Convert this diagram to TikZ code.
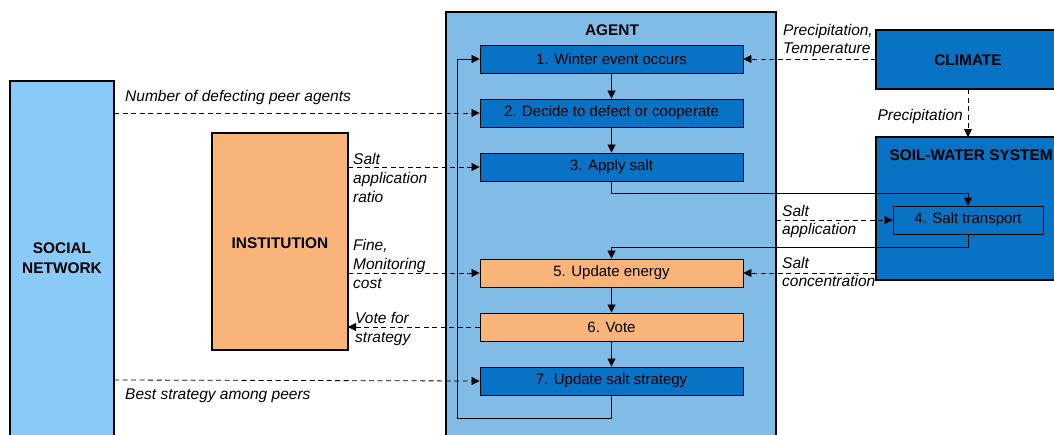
\documentclass[tikz,border=0pt]{standalone}
\usepackage{fontspec}
\setmainfont{Liberation Sans}
\usetikzlibrary{arrows.meta,positioning}
\definecolor{snblue}{RGB}{138,202,248}
\definecolor{agblue}{RGB}{128,188,230}
\definecolor{dkblue}{RGB}{8,114,196}
\definecolor{orng}{RGB}{249,180,122}
\tikzset{
  box/.style={draw=black, line width=0.9pt, minimum width=263pt, minimum height=28pt, inner sep=0pt, font=\fontsize{15}{18}\selectfont},
  bluebox/.style={box, fill=dkblue},
  orbox/.style={box, fill=orng},
  flow/.style={line width=0.8pt, -{Triangle[length=8pt,width=8pt]}},
  dflow/.style={line width=0.8pt, dash pattern=on 5pt off 3.5pt, -{Triangle[length=8pt,width=8pt]}},
  lab/.style={font=\fontsize{15.5}{19}\selectfont\itshape, inner sep=0pt, align=left},
  big/.style={font=\fontsize{15.4}{20}\selectfont\bfseries}
}
\begin{document}
\begin{tikzpicture}[x=1pt,y=-1pt]
\useasboundingbox (0,0) rectangle (1054,434);
% big frames
\filldraw[fill=snblue, draw=black, line width=1.2pt] (10,440) -- (10,81) -- (114,81) -- (114,440);
\filldraw[fill=orng, draw=black, line width=1.2pt] (212,133) rectangle (348,350);
\filldraw[fill=agblue, draw=black, line width=1.5pt] (446,440) -- (446,12) -- (776,12) -- (776,440);
\filldraw[fill=dkblue, draw=black, line width=1.2pt] (1060,30) -- (876,30) -- (876,89) -- (1060,89);
\filldraw[fill=dkblue, draw=black, line width=1.2pt] (1060,137) -- (876,137) -- (876,280) -- (1060,280);
% titles
\node[big, align=center] (sn) at (62,258) {SOCIAL\\NETWORK};
\node[big] (inst) at (280,243) {INSTITUTION};
\node[big] (agent) at (612,30) {AGENT};
\node[big] (clim) at (968,60) {CLIMATE};
\node[big, anchor=west] (sws) at (886,155) {SOIL-WATER SYSTEM};
% steps
\node[bluebox] (b1) at (611.5,59) {1. Winter event occurs};
\node[bluebox] (b2) at (611.5,113) {2. Decide to defect or cooperate};
\node[bluebox] (b3) at (611.5,167) {3. Apply salt};
\node[orbox] (b5) at (611.5,273) {5. Update energy};
\node[orbox] (b6) at (611.5,327) {6. Vote};
\node[bluebox] (b7) at (611.5,381) {7. Update salt strategy};
\node[box, fill=dkblue, minimum width=150pt] (b4) at (968,220) {4. Salt transport};
% coordinates
\coordinate (snE1) at (114,113);
\coordinate (snE2) at (114,380);
\coordinate (instE1) at (348,167);
\coordinate (instE2) at (348,273);
\coordinate (instE3) at (348,327);
\coordinate (climW) at (876,59);
\coordinate (climS) at (968,89);
\coordinate (swsN) at (968,137);
\coordinate (swsW) at (876,273);
\coordinate (agE) at (776,220);
% solid flow
\draw[flow] (b1) -- (b2);
\draw[flow] (b2) -- (b3);
\draw[flow] (b5) -- (b6);
\draw[flow] (b6) -- (b7);
\draw[flow] (b7.south) -- (611.5,418) -- (457,418) |- (b1.west);
\draw[flow] (b3.south) -- (611.5,193) -| (b4.north);
\draw[flow] (b4.south) -- (968,247) -| (b5.north);
% dashed
\draw[dflow] (snE1) -- (b2.west);
\draw[dflow] (snE2) -- (b7.west);
\draw[dflow] (instE1) -- (b3.west);
\draw[dflow] (instE2) -- (b5.west);
\draw[dflow] (b6.west) -- (instE3);
\draw[dflow] (climW) -- (b1.east);
\draw[dflow] (climS) -- (swsN);
\draw[dflow] (agE) -- (b4.west);
\draw[dflow] (swsW) -- (b5.east);
% labels
\node[lab, anchor=west] (l1) at (125,97) {Number of defecting peer agents};
\node[lab, anchor=west] (l2) at (125,396) {Best strategy among peers};
\node[lab, anchor=north west] (l3) at (353,153) {Salt\\application\\ratio};
\node[lab, anchor=north west] (l4) at (353,239) {Fine,\\Monitoring\\cost};
\node[lab, anchor=north west] (l5) at (355,312) {Vote for\\strategy};
\node[lab, anchor=north west, font=\fontsize{15.5}{18}\selectfont\itshape] (l6) at (783,24) {Precipitation,\\Temperature};
\node[lab, anchor=east] (l7) at (963,116) {Precipitation};
\node[lab, anchor=north west, font=\fontsize{15.5}{18}\selectfont\itshape] (l8) at (782,205) {Salt\\application};
\node[lab, anchor=north west, font=\fontsize{15.5}{18}\selectfont\itshape] (l9) at (782,257) {Salt\\concentration};
\end{tikzpicture}
\end{document}
